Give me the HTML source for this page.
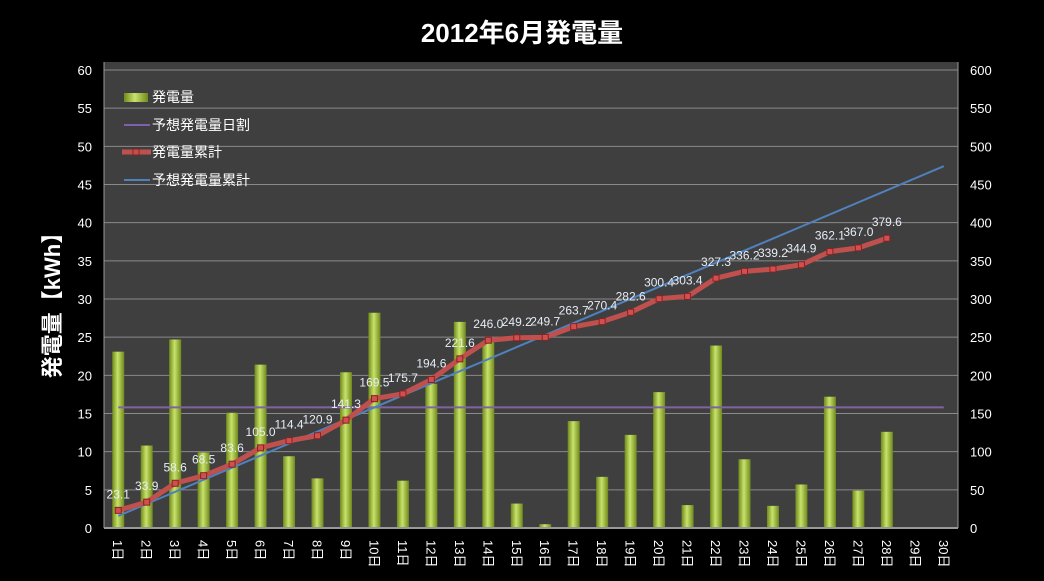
<!DOCTYPE html>
<html><head><meta charset="utf-8"><style>
body{margin:0;background:#000;width:1044px;height:581px;overflow:hidden}
svg{display:block}
text{font-family:"Liberation Sans","Noto Sans CJK JP",sans-serif}
</style></head><body>
<svg id="c" width="1044" height="581" xmlns="http://www.w3.org/2000/svg">
<defs>
<linearGradient id="bg" x1="0" x2="1" y1="0" y2="0"><stop offset="0" stop-color="#6f8a1c"/><stop offset="0.45" stop-color="#c8e26a"/><stop offset="1" stop-color="#6f8a1c"/></linearGradient>
</defs>
<rect x="0" y="0" width="1044" height="581" fill="#000"/>
<rect x="104" y="62" width="854" height="466" fill="#3f3f3f"/>
<text x="522" y="42" fill="#fff" font-size="26" font-weight="bold" text-anchor="middle">2012年6月発電量</text>
<text x="0" y="0" fill="#fff" font-size="22" font-weight="bold" text-anchor="middle" transform="translate(60,300) rotate(-90)">発電量【kWh】</text>
<g id="grid"></g><g id="bars"></g><g id="lines"></g><g id="labels"></g><g id="axes"></g>
<g>
<rect x="124" y="93" width="24" height="9" fill="url(#bg)"/>
<text x="152" y="102" fill="#fff" font-size="14">発電量</text>
<line x1="124" y1="125" x2="150" y2="125" stroke="#7f5fae" stroke-width="2"/>
<text x="152" y="130" fill="#fff" font-size="14">予想発電量日割</text>
<line x1="122" y1="152" x2="151" y2="152" stroke="#c0504d" stroke-width="5"/>
<rect x="133" y="149" width="6" height="6" fill="#c0504d" stroke="#8b2020"/>
<text x="152" y="157" fill="#fff" font-size="14">発電量累計</text>
<line x1="124" y1="180" x2="150" y2="180" stroke="#4f81bd" stroke-width="2"/>
<text x="152" y="185" fill="#fff" font-size="14">予想発電量累計</text>
</g>
</svg>
<script>
const days=[1,2,3,4,5,6,7,8,9,10,11,12,13,14,15,16,17,18,19,20,21,22,23,24,25,26,27,28,29,30];
const daily=[23.1,10.8,24.7,9.9,15.1,21.4,9.4,6.5,20.4,28.2,6.2,18.9,27.0,24.4,3.2,0.5,14.0,6.7,12.2,17.8,3.0,23.9,9.0,2.9,5.7,17.2,4.9,12.6];
const cumulative=[23.1,33.9,58.6,68.5,83.6,105.0,114.4,120.9,141.3,169.5,175.7,194.6,221.6,246.0,249.2,249.7,263.7,270.4,282.6,300.4,303.4,327.3,336.2,339.2,344.9,362.1,367.0,379.6];
const forecastDaily=15.8;
const leftTicks=[0,5,10,15,20,25,30,35,40,45,50,55,60];
const rightTicks=[0,50,100,150,200,250,300,350,400,450,500,550,600];
const NS='http://www.w3.org/2000/svg';
const X0=104,X1=958,Y0=528,Y1=70;
const slot=(X1-X0)/days.length;
const xs=i=>X0+slot*(i+0.5);
const yl=v=>Y0-(v/60)*(Y0-Y1);
const yr=v=>Y0-(v/600)*(Y0-Y1);
function mk(tag,attrs,parent,txt){const e=document.createElementNS(NS,tag);for(const k in attrs)e.setAttribute(k,attrs[k]);if(txt!==undefined)e.textContent=txt;document.getElementById(parent).appendChild(e);return e;}
leftTicks.forEach((t,i)=>{
  const g=mk('line',{x1:X0,x2:X1,y1:yl(t),y2:yl(t),stroke:'#8a8a8a','stroke-width':1},'grid');
  
  
  const l=mk('text',{x:92,y:yl(t)+5,fill:'#fff','font-size':13,'text-anchor':'end'},'axes',String(t));
  
  
});
rightTicks.forEach(t=>{
  const l=mk('text',{x:970,y:yr(t)+5,fill:'#fff','font-size':13},'axes',String(t));
  
  
});
const ax=mk('line',{x1:X0,x2:X1,y1:Y0,y2:Y0,stroke:'#999','stroke-width':2},'axes');


const ayl=mk('line',{x1:X0,x2:X0,y1:Y1-8,y2:Y0,stroke:'#999','stroke-width':1},'axes');


const ayr=mk('line',{x1:X1,x2:X1,y1:Y1-8,y2:Y0,stroke:'#999','stroke-width':1},'axes');


days.forEach((d,i)=>{
  const t=mk('text',{x:0,y:0,fill:'#fff','font-size':13,transform:`translate(${xs(i)-5},540) rotate(90)`},'axes',d+'日');
  
  
});
daily.forEach((v,i)=>{
  const b=mk('rect',{x:xs(i)-6,y:yl(v),width:12,height:Y0-yl(v),fill:'url(#bg)'},'bars');
  
  
});
const fl=mk('line',{x1:xs(0),x2:xs(days.length-1),y1:yl(forecastDaily),y2:yl(forecastDaily),stroke:'#8064a2','stroke-width':2},'lines');


const fc=mk('polyline',{points:days.map((d,i)=>xs(i)+','+yr(forecastDaily*d)).join(' '),fill:'none',stroke:'#4f81bd','stroke-width':2},'lines');


const cl=mk('polyline',{points:cumulative.map((v,i)=>xs(i)+','+yr(v)).join(' '),fill:'none',stroke:'#c0504d','stroke-width':5,'stroke-linejoin':'round'},'lines');


cumulative.forEach((v,i)=>{
  const m=mk('rect',{x:xs(i)-3,y:yr(v)-3,width:6,height:6,fill:'#d05050',stroke:'#8b2020','stroke-width':1},'lines');
  
  
  const t=mk('text',{x:xs(i),y:yr(v)-12,fill:'#e6ecf6','font-size':12,'text-anchor':'middle'},'labels',v.toFixed(1));
  
  
});
</script>
</body></html>
